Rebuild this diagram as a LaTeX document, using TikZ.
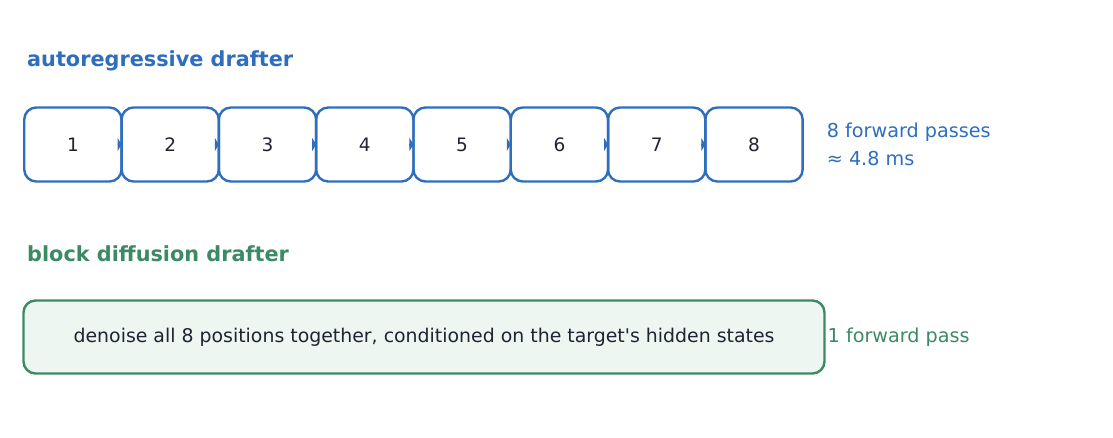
\documentclass[tikz,border=0pt]{standalone}
\usepackage{fontspec}
\setmainfont{DejaVu Sans}
\usetikzlibrary{positioning, arrows.meta}

\definecolor{arblue}{HTML}{2E6EBC}
\definecolor{dfgreen}{HTML}{3C8A64}
\definecolor{dffill}{HTML}{EDF6F1}
\definecolor{inkdark}{HTML}{1F2430}

\tikzset{
  title/.style = {anchor = west, inner sep = 0pt, font = \fontsize{20.8}{24}\selectfont\bfseries},
  tok/.style = {draw = arblue, line width = 2.4pt, rounded corners = 12pt,
    minimum width = 97.3pt, minimum height = 74pt, inner sep = 0pt, outer sep = 0pt,
    text = inkdark, font = \fontsize{18.5}{22}\selectfont},
  note/.style = {inner sep = 0pt, align = left, font = \fontsize{19.2}{28}\selectfont},
  tip/.style = {-{Triangle[length = 4pt, width = 13pt]}, draw = arblue, fill = arblue, line width = 2pt}
}

\begin{document}
\begin{tikzpicture}[x = 1pt, y = -1pt]
\useasboundingbox (0,0) rectangle (1113,437);

% autoregressive: one pass per token
\node[title, text = arblue] (artitle) at (27,61) {autoregressive drafter};
\node[tok] (b1) at (72.9,144.5) {1};
\foreach \i [remember = \i as \j (initially 1)] in {2,...,8} {
  \node[tok, right = 0pt of b\j] (b\i) {\i};
}
\foreach \i [remember = \i as \j (initially 1)] in {2,...,8} {
  \draw[tip] ([xshift = -4pt]b\j.east) -- (b\i.west);
}
\node[note, text = arblue, anchor = west, right = 24pt of b8] (arpasses) {8 forward passes\\≈ 4.8 ms};

% block diffusion: one pass for the whole block
\node[title, text = dfgreen] (dftitle) at (27,254) {block diffusion drafter};
\node[draw = dfgreen, fill = dffill, line width = 2.4pt, rounded corners = 12pt,
  minimum width = 801pt, minimum height = 73pt, outer sep = 0pt, text = inkdark,
  font = \fontsize{18.9}{22}\selectfont] (block) at (424,337)
  {denoise all 8 positions together, conditioned on the target\textquotesingle s hidden states};
\node[note, text = dfgreen, anchor = west, right = 3pt of block] (dfpasses) {1 forward pass};
\end{tikzpicture}
\end{document}
